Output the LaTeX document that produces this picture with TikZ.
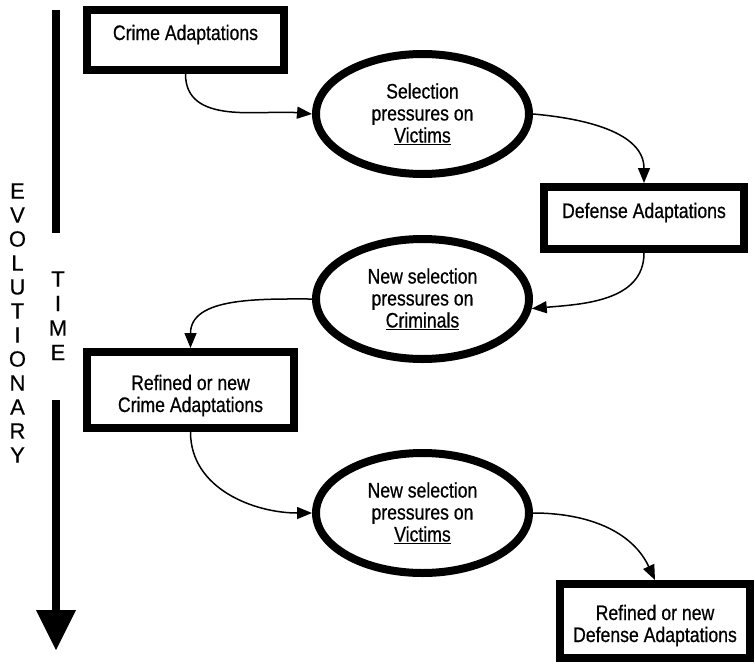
\documentclass[tikz,border=0pt]{standalone}
\usepackage{fontspec}
\setmainfont{Liberation Sans}[FakeStretch=0.84,FakeBold=0.6]
\newfontfamily\axisfont{Liberation Sans}[FakeBold=0.4]
\usetikzlibrary{positioning}
\usetikzlibrary{shapes.geometric}
\usetikzlibrary{arrows.meta}

\begin{document}
\begin{tikzpicture}[x=1pt,y=1pt,
  box/.style={draw, line width=8pt, inner sep=0pt, align=center, font=\fontsize{21}{22}\selectfont},
  oval/.style={draw, ellipse, line width=8pt, inner sep=0pt, minimum width=213pt, minimum height=120pt, align=center, font=\fontsize{21}{22}\selectfont},
  link/.style={line width=1.5pt, -{Triangle[length=15pt,width=12pt]}},
  axis/.style={line width=8pt},
  tick/.style={font=\axisfont\fontsize{22}{22}\selectfont, inner sep=0pt}]
\useasboundingbox (0,0) rectangle (755,-664);

% time axis
\coordinate (t0) at (56,-10);
\coordinate (t1) at (56,-233);
\coordinate (t2) at (56,-400);
\coordinate (t3) at (56,-650);
\draw[axis] (t0) -- (t1);
\draw[axis, -{Triangle[length=40pt,width=40pt,line width=0pt]}] (t2) -- (t3);
\foreach \ch [count=\i] in {E,V,O,L,U,T,I,O,N,A,R,Y}
  \node[tick] (evo\i) at (17.5,{-191-24*(\i-1)}) {\ch};
\foreach \ch [count=\i] in {T,I,M,E}
  \node[tick] (time\i) at (58,{-279-24.5*(\i-1)}) {\ch};

% boxes and pressures
\node[box, minimum width=197pt, minimum height=60pt, text height=14pt, text depth=14pt] (crime) at (185.5,-40) {Crime Adaptations};
\node[oval] (vict) at (422.5,-114) {Selection\\pressures on\\\underline{Victims}};
\node[box, minimum width=200pt, minimum height=62pt, text height=14pt, text depth=14pt] (defense) at (644,-218) {Defense Adaptations};
\node[oval] (crim) at (422.5,-299) {New selection\\pressures on\\\underline{Criminals}};
\node[box, minimum width=207pt, minimum height=58pt, text height=60pt, text depth=16pt] (crime2) at (190.5,-390) {Refined or new\\Crime Adaptations};
\node[oval] (vict2) at (422.5,-513) {New selection\\pressures on\\\underline{Victims}};
\node[box, minimum width=190pt, minimum height=64pt, text height=58pt, text depth=16pt] (defense2) at (655,-621) {Refined or new\\Defense Adaptations};

% links
\draw[link] (crime.south) to[out=-90,in=175] (vict.west);
\draw[link] (vict.east) to[out=-5,in=90] (defense.north);
\draw[link] (defense.south) to[out=-90,in=5] (crim.-5);
\draw[link] (crim.west) to[out=180,in=90] (crime2.north);
\draw[link] (crime2.south) to[out=-90,in=180] (vict2.west);
\draw[link] (vict2.east) to[out=0,in=115] (defense2.north);
\end{tikzpicture}
\end{document}
